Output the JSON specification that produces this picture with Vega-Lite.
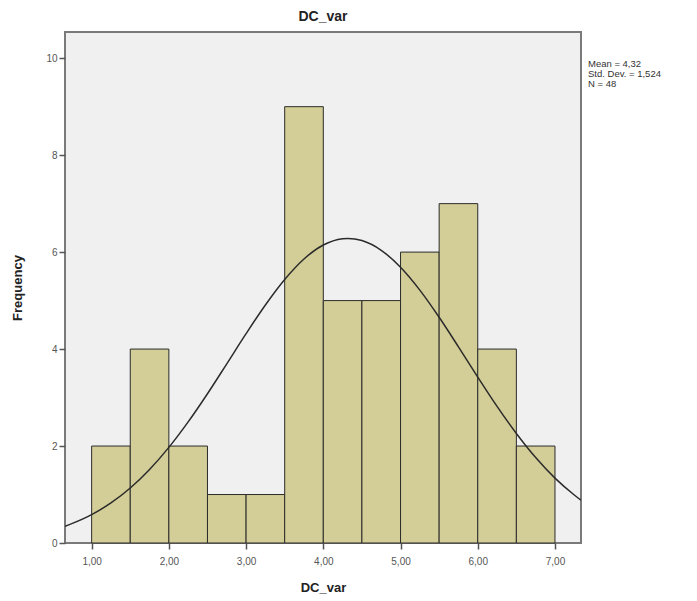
{
  "$schema": "https://vega.github.io/schema/vega-lite/v6.json",
  "width": 516,
  "height": 511,
  "autosize": {"type": "none"},
  "padding": {"left": 65, "top": 32, "right": 116, "bottom": 58},
  "background": "white",
  "config": {
    "font": "Liberation Sans",
    "view": {"fill": "#F0F0F0", "stroke": "#7A7A7A", "strokeWidth": 2},
    "axis": {
      "domain": false,
      "grid": false,
      "tickColor": "#555555",
      "tickSize": 6,
      "tickWidth": 1.5,
      "labelColor": "#555555",
      "labelFont": "Liberation Sans",
      "labelFontSize": 10,
      "titleFont": "Liberation Sans",
      "titleFontSize": 13,
      "titleFontWeight": "bold",
      "titleColor": "#222222"
    }
  },
  "title": {
    "text": "DC_var",
    "fontSize": 14,
    "fontWeight": "bold",
    "color": "#222222",
    "font": "Liberation Sans",
    "anchor": "middle",
    "offset": 8
  },
  "datasets": {
    "bins": [
      {"bin_start": 1.0, "bin_end": 1.5, "count": 2},
      {"bin_start": 1.5, "bin_end": 2.0, "count": 4},
      {"bin_start": 2.0, "bin_end": 2.5, "count": 2},
      {"bin_start": 2.5, "bin_end": 3.0, "count": 1},
      {"bin_start": 3.0, "bin_end": 3.5, "count": 1},
      {"bin_start": 3.5, "bin_end": 4.0, "count": 9},
      {"bin_start": 4.0, "bin_end": 4.5, "count": 5},
      {"bin_start": 4.5, "bin_end": 5.0, "count": 5},
      {"bin_start": 5.0, "bin_end": 5.5, "count": 6},
      {"bin_start": 5.5, "bin_end": 6.0, "count": 7},
      {"bin_start": 6.0, "bin_end": 6.5, "count": 4},
      {"bin_start": 6.5, "bin_end": 7.0, "count": 2}
    ],
    "curve": [
      {"x": 0.655, "y": 0.345},
      {"x": 0.75, "y": 0.404},
      {"x": 1.0, "y": 0.586},
      {"x": 1.25, "y": 0.826},
      {"x": 1.5, "y": 1.134},
      {"x": 1.75, "y": 1.516},
      {"x": 2.0, "y": 1.972},
      {"x": 2.25, "y": 2.498},
      {"x": 2.5, "y": 3.079},
      {"x": 2.75, "y": 3.696},
      {"x": 3.0, "y": 4.318},
      {"x": 3.25, "y": 4.91},
      {"x": 3.5, "y": 5.436},
      {"x": 3.75, "y": 5.859},
      {"x": 4.0, "y": 6.146},
      {"x": 4.25, "y": 6.276},
      {"x": 4.32, "y": 6.283},
      {"x": 4.5, "y": 6.239},
      {"x": 4.75, "y": 6.038},
      {"x": 5.0, "y": 5.688},
      {"x": 5.25, "y": 5.216},
      {"x": 5.5, "y": 4.656},
      {"x": 5.75, "y": 4.046},
      {"x": 6.0, "y": 3.422},
      {"x": 6.25, "y": 2.818},
      {"x": 6.5, "y": 2.259},
      {"x": 6.75, "y": 1.762},
      {"x": 7.0, "y": 1.338},
      {"x": 7.25, "y": 0.99},
      {"x": 7.337, "y": 0.882}
    ]
  },
  "layer": [
    {
      "data": {"name": "bins"},
      "mark": {"type": "rect", "fill": "#D3CE97", "stroke": "#2B2B2B", "strokeWidth": 1},
      "encoding": {
        "x": {
          "field": "bin_start",
          "type": "quantitative",
          "scale": {"domain": [0.655, 7.337], "nice": false, "zero": false},
          "axis": {
            "title": "DC_var",
            "values": [1, 2, 3, 4, 5, 6, 7],
            "labelExpr": "replace(format(datum.value, '.2f'), '.', ',')",
            "labelPadding": 7,
            "titlePadding": 15
          }
        },
        "x2": {"field": "bin_end"},
        "y": {
          "field": "count",
          "type": "quantitative",
          "scale": {"domain": [0, 10.54], "nice": false},
          "axis": {
            "title": "Frequency",
            "values": [0, 2, 4, 6, 8, 10],
            "format": "d",
            "labelPadding": 2,
            "titlePadding": 21
          }
        },
        "y2": {"datum": 0}
      }
    },
    {
      "data": {"name": "curve"},
      "mark": {"type": "line", "color": "#2B2B2B", "strokeWidth": 1.5, "clip": true, "interpolate": "monotone"},
      "encoding": {
        "x": {"field": "x", "type": "quantitative"},
        "y": {"field": "y", "type": "quantitative"}
      }
    },
    {
      "data": {"values": [{"label": ["Mean = 4,32", "Std. Dev. = 1,524", "N = 48"]}]},
      "mark": {"type": "text", "align": "left", "baseline": "top", "dx": 7, "fontSize": 9.5, "lineHeight": 10, "color": "#333333", "font": "Liberation Sans"},
      "encoding": {
        "x": {"datum": 7.337},
        "y": {"datum": 9.98},
        "text": {"field": "label"}
      }
    }
  ]
}
